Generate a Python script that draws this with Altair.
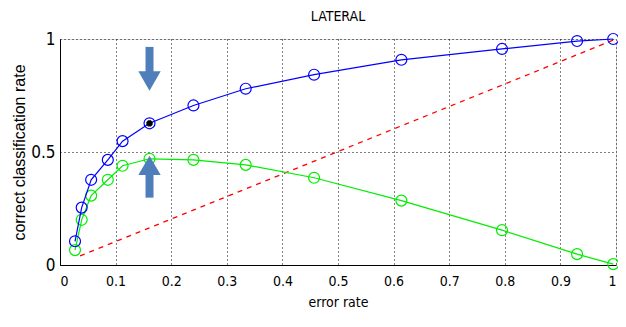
import altair as alt
import pandas as pd

# ---- data ----
err_rate = [0.027, 0.039, 0.056, 0.086, 0.1125, 0.161, 0.24, 0.334, 0.457, 0.614, 0.795, 0.93, 0.995]
blue_rate = [0.105, 0.254, 0.377, 0.465, 0.548, 0.627, 0.706, 0.78, 0.842, 0.908, 0.956, 0.991, 1.0]
green_rate = [0.066, 0.2, 0.307, 0.377, 0.439, 0.47, 0.465, 0.443, 0.386, 0.285, 0.154, 0.048, 0.004]
diag_x = [0.036, 1.0]
diag_y = [0.04, 1.0]
star_x = [0.161]
star_y = [0.627]
x_ticks = [0, 0.1, 0.2, 0.3, 0.4, 0.5, 0.6, 0.7, 0.8, 0.9, 1]
y_ticks = [0, 0.5, 1]

# arrows (annotation): shaft start/end and head centre, in data units
arrow_x = [0.161, 0.161]
arrow_y1 = [0.965, 0.43]
arrow_y2 = [0.83, 0.298]
head_y = [0.814, 0.441]
head_shape = ["triangle-down", "triangle-up"]

FONT = "DejaVu Sans Condensed, Liberation Sans, sans-serif"
FONT_Y = "Liberation Sans, Arial, sans-serif"
W, H = 556, 226

blue_df = pd.DataFrame({"x": err_rate, "y": blue_rate})
green_df = pd.DataFrame({"x": err_rate, "y": green_rate})
diag_df = pd.DataFrame({"x": diag_x, "y": diag_y})
star_df = pd.DataFrame({"x": star_x, "y": star_y})
arrow_df = pd.DataFrame({"x": arrow_x, "y1": arrow_y1, "y2": arrow_y2, "hy": head_y, "shape": head_shape})

xscale = alt.Scale(domain=[0, 1], nice=False, zero=False)
yscale = alt.Scale(domain=[0, 1], nice=False, zero=False)

xaxis = alt.Axis(values=x_ticks, title="error rate", labelExpr="datum.value", grid=True,
                 gridColor="black", gridDash=[1, 3], gridOpacity=1, gridWidth=1,
                 ticks=False, labelPadding=9, labelFontSize=14, labelColor="black",
                 titleFontSize=14, titleFontWeight="normal", titlePadding=7, titleColor="black",
                 domainColor="black", labelFont=FONT, titleFont=FONT)
yaxis = alt.Axis(values=y_ticks, title="correct classification rate", labelExpr="datum.value", grid=True,
                 gridColor="black", gridDash=[1, 3], gridOpacity=1, gridWidth=1,
                 ticks=False, labelPadding=5, labelFontSize=17, labelColor="black",
                 titleFontSize=16, titleFontWeight="normal", titlePadding=3, titleColor="black",
                 domainColor="black", labelFont=FONT, titleFont=FONT_Y)

X = alt.X("x:Q", scale=xscale, axis=xaxis)
Y = alt.Y("y:Q", scale=yscale, axis=yaxis)

diag = alt.Chart(diag_df).mark_line(color="#ff0000", strokeDash=[5, 5], strokeWidth=1.3).encode(x=X, y=Y)

blue_line = alt.Chart(blue_df).mark_line(color="#0000ff", strokeWidth=1.2).encode(x=X, y=Y)
blue_pts = alt.Chart(blue_df).mark_point(shape="circle", color="#0000ff", size=120, strokeWidth=1.2,
                                         filled=False, opacity=1).encode(x=X, y=Y)
green_line = alt.Chart(green_df).mark_line(color="#00ee00", strokeWidth=1.2).encode(x=X, y=Y)
green_pts = alt.Chart(green_df).mark_point(shape="circle", color="#00ee00", size=120, strokeWidth=1.2,
                                           filled=False, opacity=1).encode(x=X, y=Y)

star1 = alt.Chart(star_df).mark_point(shape="cross", color="black", filled=True, size=40, opacity=1).encode(x=X, y=Y)
star2 = alt.Chart(star_df).mark_point(shape="cross", color="black", filled=True, size=40, angle=45, opacity=1).encode(x=X, y=Y)

shaft = alt.Chart(arrow_df).mark_rule(color="#4f7fba", strokeWidth=8).encode(
    x=alt.X("x:Q", scale=xscale), y=alt.Y("y1:Q", scale=yscale), y2="y2:Q")
head = alt.Chart(arrow_df).mark_point(color="#4f7fba", filled=True, size=500, opacity=1).encode(
    x=alt.X("x:Q", scale=xscale), y=alt.Y("hy:Q", scale=yscale),
    shape=alt.Shape("shape:N", scale=None))

chart = alt.layer(diag, green_line, green_pts, blue_line, blue_pts, star1, star2, shaft, head).properties(
    width=W, height=H,
    title=alt.Title("LATERAL", fontSize=14, fontWeight="normal", font=FONT, color="black", offset=6),
    autosize=alt.AutoSizeParams(type="none"),
    padding={"left": 52, "top": 31, "right": 2, "bottom": 53},
).configure_view(stroke="black", strokeWidth=1.2).configure(background="white")

chart.save("out.html", embed_options={"renderer": "svg", "actions": False})
